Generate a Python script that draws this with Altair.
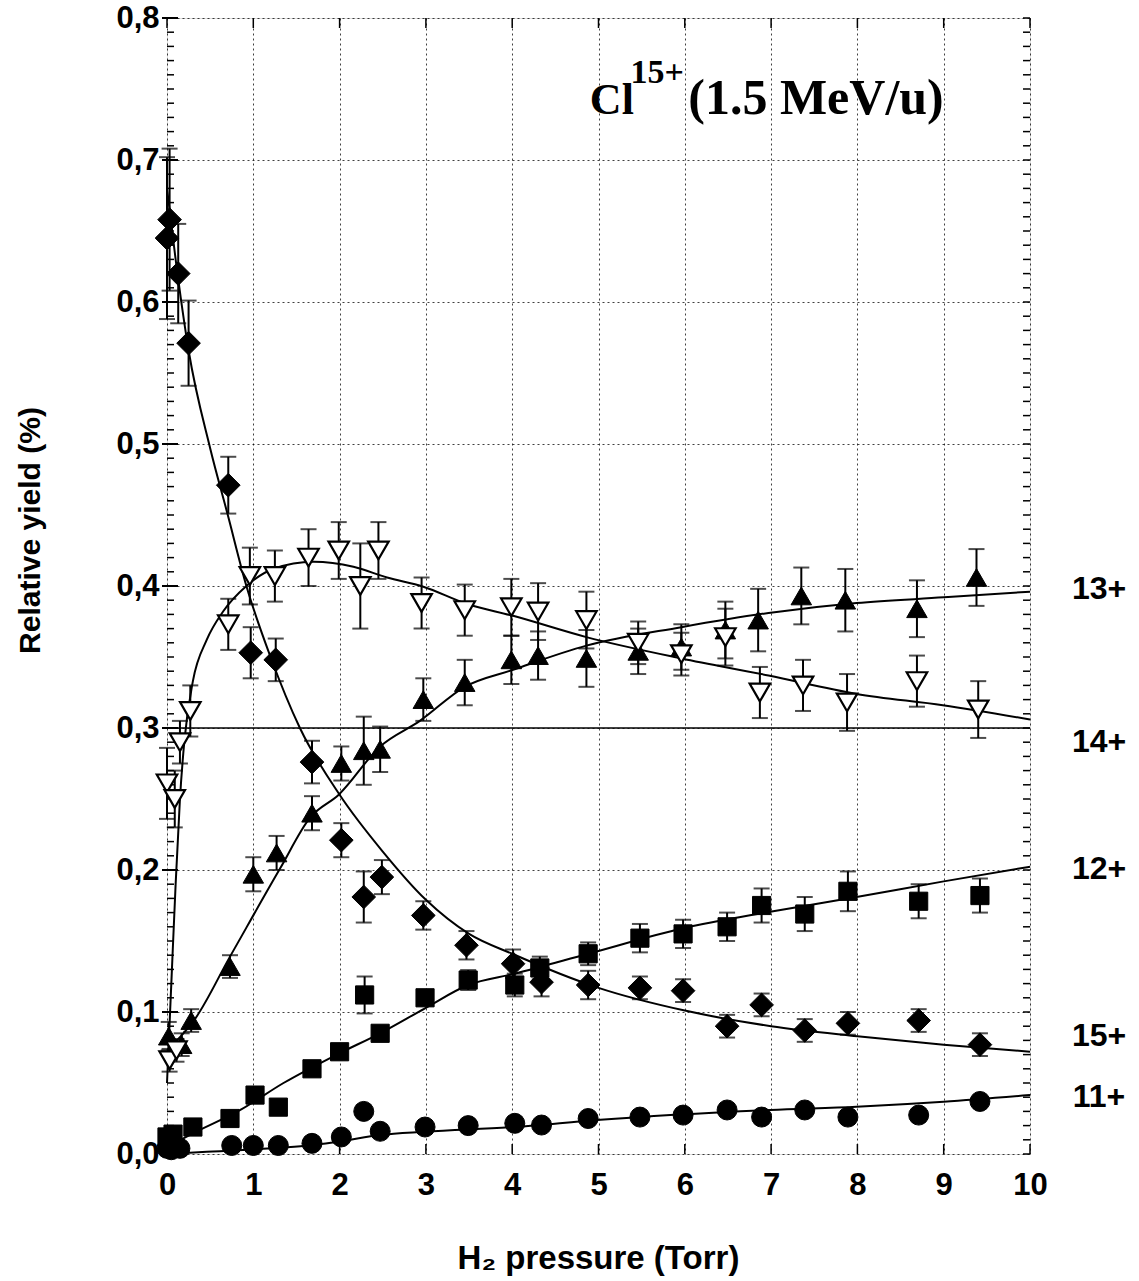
import altair as alt
import pandas as pd

# ---------------- data ----------------
# 15+ (filled diamonds)
x15 = [0.0, 0.03, 0.13, 0.25, 0.71, 0.97, 1.26, 1.68, 2.02, 2.28, 2.49, 2.97, 3.47, 4.01,
       4.34, 4.88, 5.48, 5.98, 6.49, 6.89, 7.39, 7.89, 8.71, 9.42]
y15 = [0.645, 0.658, 0.620, 0.571, 0.471, 0.353, 0.348, 0.276, 0.221, 0.181, 0.195, 0.168,
       0.147, 0.134, 0.121, 0.119, 0.117, 0.115, 0.090, 0.105, 0.087, 0.092, 0.094, 0.077]
e15 = [0.057, 0.05, 0.035, 0.03, 0.02, 0.018, 0.015, 0.015, 0.012, 0.018, 0.012, 0.010,
       0.010, 0.010, 0.010, 0.010, 0.008, 0.008, 0.008, 0.008, 0.008, 0.008, 0.008, 0.008]

# 14+ (open down-triangles)
x14 = [0.0, 0.03, 0.09, 0.11, 0.15, 0.27, 0.71, 0.96, 1.25, 1.64, 1.99, 2.24, 2.45, 2.95,
       3.45, 3.99, 4.30, 4.86, 5.46, 5.96, 6.47, 6.87, 7.37, 7.88, 8.69, 9.40]
y14 = [0.261, 0.066, 0.250, 0.073, 0.290, 0.312, 0.373, 0.407, 0.407, 0.420, 0.425, 0.400,
       0.425, 0.388, 0.383, 0.385, 0.382, 0.376, 0.360, 0.352, 0.364, 0.325, 0.330, 0.318,
       0.333, 0.313]
e14 = [0.025, 0.008, 0.020, 0.008, 0.015, 0.018, 0.018, 0.020, 0.018, 0.020, 0.020, 0.030,
       0.020, 0.018, 0.018, 0.020, 0.020, 0.020, 0.015, 0.015, 0.020, 0.018, 0.018, 0.020,
       0.018, 0.020]

# 13+ (filled up-triangles)
x13 = [0.02, 0.17, 0.28, 0.73, 1.0, 1.27, 1.68, 2.02, 2.28, 2.47, 2.97, 3.45, 3.99, 4.30,
       4.86, 5.46, 5.96, 6.47, 6.85, 7.35, 7.86, 8.69, 9.38]
y13 = [0.083, 0.077, 0.094, 0.132, 0.197, 0.212, 0.240, 0.275, 0.284, 0.285, 0.320, 0.332,
       0.348, 0.351, 0.349, 0.354, 0.357, 0.369, 0.376, 0.393, 0.390, 0.384, 0.406]
e13 = [0.010, 0.008, 0.008, 0.008, 0.012, 0.012, 0.012, 0.012, 0.024, 0.016, 0.015, 0.016,
       0.017, 0.017, 0.020, 0.016, 0.016, 0.020, 0.022, 0.020, 0.022, 0.020, 0.020]

# 12+ (filled squares)
x12 = [0.0, 0.07, 0.30, 0.73, 1.02, 1.29, 1.68, 2.0, 2.29, 2.47, 2.99, 3.49, 4.03, 4.32,
       4.88, 5.48, 5.98, 6.49, 6.89, 7.39, 7.89, 8.71, 9.42]
y12 = [0.012, 0.014, 0.019, 0.025, 0.0415, 0.033, 0.060, 0.072, 0.112, 0.085, 0.110, 0.1225,
       0.119, 0.131, 0.141, 0.152, 0.155, 0.160, 0.175, 0.169, 0.185, 0.178, 0.182]
e12 = [0, 0, 0, 0, 0, 0, 0, 0, 0.013, 0, 0.005, 0.007, 0.008, 0.008, 0.008, 0.010, 0.010,
       0.010, 0.012, 0.012, 0.014, 0.012, 0.012]

# 11+ (filled circles)
x11 = [0.0, 0.05, 0.15, 0.75, 1.0, 1.29, 1.68, 2.02, 2.28, 2.47, 2.99, 3.49, 4.03, 4.34,
       4.88, 5.48, 5.98, 6.49, 6.89, 7.39, 7.89, 8.71, 9.42]
y11 = [0.004, 0.003, 0.004, 0.006, 0.006, 0.006, 0.0075, 0.012, 0.030, 0.016, 0.019, 0.020,
       0.0216, 0.0204, 0.025, 0.026, 0.0274, 0.031, 0.026, 0.031, 0.026, 0.0274, 0.037]

# fitted curves
fx15 = [0.0, 0.1, 0.25, 0.5, 0.7, 0.92, 1.2, 1.54, 2.0, 2.5, 3.0, 3.5, 4.0, 5.0, 6.0, 7.0, 8.0, 9.0, 10.0]
fy15 = [0.68, 0.63, 0.566, 0.497, 0.451, 0.40, 0.35, 0.30, 0.253, 0.213, 0.179, 0.155, 0.141,
        0.117, 0.101, 0.090, 0.083, 0.077, 0.072]
fx14 = [0.0, 0.05, 0.1, 0.15, 0.2, 0.3, 0.46, 0.65, 0.92, 1.23, 1.70, 2.16, 2.55, 2.97, 3.47,
        4.01, 4.86, 5.96, 6.97, 7.99, 8.99, 10.0]
fy14 = [0.05, 0.12, 0.19, 0.25, 0.29, 0.333, 0.362, 0.382, 0.400, 0.412, 0.417, 0.4135, 0.406,
        0.3995, 0.3875, 0.379, 0.364, 0.349, 0.337, 0.324, 0.316, 0.306]
fx13 = [0.0, 0.19, 0.3, 0.73, 1.31, 1.66, 1.99, 2.47, 2.93, 3.45, 4.01, 4.86, 5.96, 6.97, 7.99, 9.0, 10.0]
fy13 = [0.073, 0.085, 0.093, 0.139, 0.201, 0.237, 0.253, 0.287, 0.305, 0.329, 0.341, 0.358,
        0.371, 0.381, 0.388, 0.392, 0.396]
fx12 = [0.0, 0.3, 0.85, 1.35, 2.0, 2.47, 2.99, 3.49, 4.03, 4.88, 5.98, 6.99, 7.99, 9.0, 10.0]
fy12 = [0.005, 0.0145, 0.031, 0.050, 0.071, 0.085, 0.1026, 0.119, 0.127, 0.141, 0.159, 0.1706,
        0.181, 0.192, 0.2023]
fx11 = [0.0, 0.46, 1.68, 2.0, 2.47, 2.99, 4.03, 4.98, 6.99, 7.99, 9.0, 10.0]
fy11 = [0.0, 0.0016, 0.0063, 0.0088, 0.0134, 0.0157, 0.019, 0.0239, 0.031, 0.0333, 0.0368, 0.0415]

series_labels = ["13+", "14+", "12+", "15+", "11+"]
label_y = [0.398, 0.290, 0.201, 0.083, 0.040]

title_texts = ["Cl", "15+", "(1.5 MeV/u)"]

x_ticks = list(range(0, 11))
y_major = [i / 10 for i in range(0, 9)]
y_minor = [i / 100 for i in range(0, 81)]

# ---------------- layout ----------------
W, H = 863, 1136
XMAX = 10.0
SANS = "Liberation Sans"
NARROW = "'Liberation Sans Narrow', 'Liberation Sans', Arial"

def pts(xs, ys, es=None):
    d = pd.DataFrame({"x": xs, "y": ys})
    if es is not None:
        d["lo"] = [y - e for y, e in zip(ys, es)]
        d["hi"] = [y + e for y, e in zip(ys, es)]
        d["e"] = es
        d = d[d["e"] > 0]
    return d

xs = alt.Scale(domain=[0, XMAX], nice=False, zero=False)
ys = alt.Scale(domain=[0, 0.8], nice=False, zero=False)

X = alt.X("x:Q", scale=xs, axis=alt.Axis(
    values=x_ticks, format="d", grid=True, gridDash=[2, 3], gridColor="#000", gridOpacity=0.75,
    gridWidth=1, ticks=False, domain=False, labelFontSize=31, labelFont=NARROW,
    labelFontWeight="bold", labelPadding=16, labelColor="#000", labelFlush=False,
    labelOverlap=False,
    title="H₂ pressure (Torr)", titleFontSize=33, titleFont=SANS,
    titleFontWeight="bold", titleColor="#000", titleX=431, titleY=114,
    titleAlign="center", titleBaseline="alphabetic"))
Y = alt.Y("y:Q", scale=ys, axis=alt.Axis(
    values=y_major, grid=True, gridDash=[2, 3], gridColor="#000", gridOpacity=0.75,
    gridWidth=1, ticks=False, domain=False, labelFontSize=31, labelFont=NARROW,
    labelFontWeight="bold", labelPadding=8, labelColor="#000", labelFlush=False,
    labelOverlap=False,
    labelExpr="replace(format(datum.value, '.1f'), '.', ',')",
    title="Relative yield (%)", titleFontSize=30, titleFont=SANS,
    titleFontWeight="bold", titleColor="#000", titleX=-137, titleY=512,
    titleAngle=270, titleAlign="center", titleBaseline="middle"))

base_grid = alt.Chart(pd.DataFrame({"x": [0.0], "y": [0.0]})).mark_point(opacity=0).encode(x=X, y=Y)

solid03 = alt.Chart(pd.DataFrame({"y": [0.3]})).mark_rule(color="#000", strokeWidth=1.5).encode(
    y=alt.Y("y:Q", scale=ys))

ym = pd.DataFrame({"y": y_minor})
left_minor = alt.Chart(ym).mark_rule(color="#000", strokeWidth=1.5).encode(
    y=alt.Y("y:Q", scale=ys), x=alt.value(0), x2=alt.value(7))
right_minor = alt.Chart(ym).mark_rule(color="#000", strokeWidth=1.5).encode(
    y=alt.Y("y:Q", scale=ys), x=alt.value(W - 7), x2=alt.value(W))
left_major = alt.Chart(pd.DataFrame({"y": y_major})).mark_rule(color="#000", strokeWidth=2).encode(
    y=alt.Y("y:Q", scale=ys), x=alt.value(-5), x2=alt.value(11))
xt = pd.DataFrame({"x": x_ticks})
bottom_t = alt.Chart(xt).mark_rule(color="#000", strokeWidth=1.5).encode(
    x=alt.X("x:Q", scale=xs), y=alt.value(H - 10), y2=alt.value(H))
top_t = alt.Chart(xt).mark_rule(color="#000", strokeWidth=1.5).encode(
    x=alt.X("x:Q", scale=xs), y=alt.value(0), y2=alt.value(10))

def fit(fx, fy):
    return alt.Chart(pd.DataFrame({"x": fx, "y": fy})).mark_line(
        color="#000", strokeWidth=2, interpolate="monotone").encode(
        x=alt.X("x:Q", scale=xs), y=alt.Y("y:Q", scale=ys))

def errbars(d):
    r = alt.Chart(d).mark_rule(color="#000", strokeWidth=2).encode(
        x=alt.X("x:Q", scale=xs), y=alt.Y("lo:Q", scale=ys), y2="hi:Q")
    c1 = alt.Chart(d).mark_tick(color="#000", thickness=2, size=16, orient="horizontal").encode(
        x=alt.X("x:Q", scale=xs), y=alt.Y("lo:Q", scale=ys))
    c2 = alt.Chart(d).mark_tick(color="#000", thickness=2, size=16, orient="horizontal").encode(
        x=alt.X("x:Q", scale=xs), y=alt.Y("hi:Q", scale=ys))
    return r + c1 + c2

def points(d, shape, size, filled=True):
    if filled:
        m = alt.Chart(d).mark_point(shape=shape, size=size, filled=True, fill="#000",
                                    stroke="#000", strokeWidth=1, opacity=1)
    else:
        m = alt.Chart(d).mark_point(shape=shape, size=size, filled=True, fill="#fff",
                                    stroke="#000", strokeWidth=2.2, opacity=1)
    return m.encode(x=alt.X("x:Q", scale=xs), y=alt.Y("y:Q", scale=ys))

d15 = pts(x15, y15); e15d = pts(x15, y15, e15)
d14 = pts(x14, y14); e14d = pts(x14, y14, e14)
d13 = pts(x13, y13); e13d = pts(x13, y13, e13)
d12 = pts(x12, y12); e12d = pts(x12, y12, e12)
d11 = pts(x11, y11)

labels = alt.Chart(pd.DataFrame({"t": series_labels, "y": label_y, "x": [10.8] * 5})).mark_text(
    font=SANS, fontWeight="bold", fontSize=32, align="center", baseline="middle",
    color="#000").encode(x=alt.X("x:Q", scale=xs), y=alt.Y("y:Q", scale=ys), text="t:N")

title_parts = pd.DataFrame({
    "t": title_texts,
    "x": [4.90, 5.37, 6.04],
    "y": [0.7326, 0.7545, 0.7326],
    "fs": [44, 34, 50],
})
ion_title = alt.Chart(title_parts).mark_text(
    font="Liberation Serif", fontWeight="bold", align="left", baseline="alphabetic",
    color="#000").encode(x=alt.X("x:Q", scale=xs), y=alt.Y("y:Q", scale=ys), text="t:N",
                         size=alt.Size("fs:Q", scale=None, legend=None))

chart = alt.layer(
    base_grid, solid03, left_minor, right_minor, left_major, bottom_t, top_t,
    fit(fx15, fy15), fit(fx14, fy14), fit(fx13, fy13), fit(fx12, fy12), fit(fx11, fy11),
    errbars(e15d), errbars(e14d), errbars(e13d), errbars(e12d),
    points(d11, "circle", 400), points(d12, "square", 330), points(d13, "triangle-up", 420),
    points(d14, "triangle-down", 420, filled=False), points(d15, "diamond", 560),
    labels, ion_title,
).properties(
    width=W, height=H,
    autosize=alt.AutoSizeParams(type="none"),
    padding={"left": 167, "top": 18, "right": 1139 - 167 - W, "bottom": 1281 - 18 - H},
).configure_view(stroke="#000", strokeWidth=2.5).configure(background="#fff")

chart.save("out.html", embed_options={"renderer": "svg", "actions": False})
